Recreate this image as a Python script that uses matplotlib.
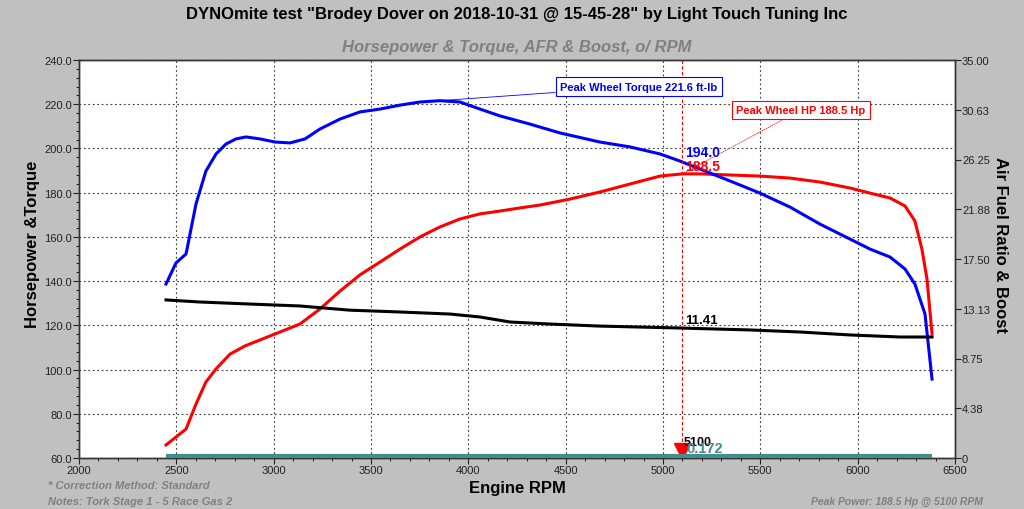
import matplotlib
matplotlib.use("Agg")
import matplotlib.pyplot as plt
from matplotlib.ticker import MultipleLocator, FixedLocator

# ---- data ----
torque_rpm = [2447, 2498, 2550, 2601, 2652, 2704, 2755, 2806, 2858, 2930, 3007, 3084, 3161, 3238,
              3341, 3443, 3546, 3649, 3752, 3854, 3957, 4060, 4163, 4317, 4471, 4676, 4830, 4985,
              5087, 5190, 5344, 5498, 5652, 5806, 5961, 6063, 6166, 6243, 6294, 6346, 6382]
torque = [138.7, 148.2, 152.3, 174.9, 189.8, 197.5, 202.0, 204.3, 205.2, 204.3, 202.9, 202.5, 204.3,
          208.8, 213.3, 216.5, 217.8, 219.6, 221.0, 221.6, 221.0, 217.8, 214.7, 211.0, 207.0, 202.9,
          200.7, 197.5, 194.3, 190.7, 185.3, 179.8, 173.5, 165.8, 159.0, 154.5, 150.9, 145.5, 138.7,
          125.1, 95.7]

hp_rpm = [2447, 2550, 2601, 2652, 2704, 2776, 2853, 2930, 3033, 3135, 3238, 3341, 3443, 3546, 3649,
          3752, 3854, 3957, 4060, 4163, 4265, 4368, 4522, 4676, 4830, 4985, 5100, 5190, 5344, 5498,
          5652, 5806, 5961, 6063, 6166, 6243, 6294, 6330, 6356, 6382]
hp = [65.9, 73.1, 84.4, 94.4, 100.3, 107.0, 110.7, 113.4, 117.0, 120.6, 127.4, 135.5, 142.8, 148.6,
      154.5, 160.0, 164.5, 168.1, 170.4, 171.7, 173.1, 174.4, 177.1, 180.3, 183.9, 187.5, 188.5, 188.5,
      188.0, 187.5, 186.6, 184.8, 182.1, 179.8, 177.6, 174.0, 167.2, 154.5, 141.0, 116.1]

afr_rpm = [2447, 2620, 2877, 3134, 3391, 3648, 3905, 4060, 4214, 4420, 4676, 5087, 5447, 5704,
           5961, 6218, 6382]
afr = [13.90, 13.72, 13.54, 13.37, 13.00, 12.84, 12.66, 12.40, 11.96, 11.78, 11.60, 11.43, 11.26,
       11.08, 10.82, 10.64, 10.64]

boost_rpm = [2447, 6382]
boost = [0.172, 0.172]

peak_rpm = 5100
peak_hp = 188.5
peak_tq = 221.6
peak_tq_rpm = 3854
tq_at_peak = 194.0
afr_at_peak = 11.41
boost_at_peak = 0.172

x_ticks = [2000, 2500, 3000, 3500, 4000, 4500, 5000, 5500, 6000, 6500]
left_ticks = [60, 80, 100, 120, 140, 160, 180, 200, 220, 240]
right_ticks = [0, 4.38, 8.75, 13.13, 17.50, 21.88, 26.25, 30.63, 35.00]
right_labels = ["0", "4.38", "8.75", "13.13", "17.50", "21.88", "26.25", "30.63", "35.00"]

# ---- figure ----
plt.rcParams['font.family'] = ['Liberation Sans', 'DejaVu Sans']
BG = "#c0c0c0"
fig = plt.figure(figsize=(10.24, 5.10), dpi=100, facecolor=BG)
ax = fig.add_axes([79/1024, 51/510, 876/1024, 398/510])
ax.set_facecolor("white")
ax.set_xlim(2000, 6500)
ax.set_ylim(60, 240)
ax2 = ax.twinx()
ax2.set_ylim(0, 35)

ax.set_xticks(x_ticks)
ax.xaxis.set_minor_locator(MultipleLocator(100))
ax.set_yticks(left_ticks)
ax.set_yticklabels([f"{v:.1f}" for v in left_ticks])
ax.yaxis.set_minor_locator(MultipleLocator(4))
ax2.yaxis.set_major_locator(FixedLocator(right_ticks))
ax2.set_yticklabels(right_labels)

for a in (ax, ax2):
    a.tick_params(which='major', length=4, width=0.8, labelsize=8, colors='#222222', pad=1)
    a.tick_params(which='minor', length=2, width=0.6)
    for s in a.spines.values():
        s.set_color('#333333')
        s.set_linewidth(1.0)

ax.grid(True, which='major', axis='both', linestyle=(0, (1.5, 2.5)), color='#333333', linewidth=0.8)

# lines
ax2.plot(boost_rpm, boost, color='#3f8f8f', lw=3, zorder=3, solid_capstyle='butt')
ax2.plot(afr_rpm, afr, color='black', lw=2.2, zorder=3)
ax.plot(hp_rpm, hp, color='#ff0000', lw=2.2, zorder=4)
ax.plot(torque_rpm, torque, color='#0000ff', lw=2.2, zorder=5)

# cursor
ax.axvline(peak_rpm, color='red', lw=0.8, linestyle=(0, (3, 2)), zorder=6)
ax.plot([peak_rpm], [63.3], marker='v', color='red', markersize=11, clip_on=False, zorder=7)
ax.text(peak_rpm + 15, tq_at_peak + 1.2, f"{tq_at_peak:.1f}", color='#0000ff', fontsize=10,
        fontweight='bold', ha='left', va='bottom', zorder=8)
ax.text(peak_rpm + 15, peak_hp + 0.2, f"{peak_hp:.1f}", color='red', fontsize=10,
        fontweight='bold', ha='left', va='bottom', zorder=8)
ax2.text(peak_rpm + 15, afr_at_peak + 0.2, f"{afr_at_peak:.2f}", color='black', fontsize=9.5,
         fontweight='bold', ha='left', va='bottom', zorder=8)
ax.text(peak_rpm + 5, 64.6, f"{peak_rpm}", color='black', fontsize=9, fontweight='bold',
        ha='left', va='bottom', zorder=8)
ax2.text(peak_rpm + 20, 0.25, f"{boost_at_peak:.3f}", color='#3f8f8f', fontsize=10.5,
         fontweight='bold', ha='left', va='bottom', zorder=8)

# annotations
ax.annotate(f"Peak Wheel Torque {peak_tq:.1f} ft-lb", xy=(peak_tq_rpm, peak_tq), xytext=(4471, 228.0),
            color='#0000ff', fontsize=8, fontweight='bold', ha='left', va='center',
            bbox=dict(boxstyle='square,pad=0.4', fc='white', ec='#0000ff', lw=0.8),
            arrowprops=dict(arrowstyle='-', color='#0000ff', lw=0.6, shrinkA=0, shrinkB=0), zorder=9)
ax.annotate(f"Peak Wheel HP {peak_hp:.1f} Hp", xy=(peak_rpm, peak_hp), xytext=(5375, 217.4),
            color='red', fontsize=8, fontweight='bold', ha='left', va='center',
            bbox=dict(boxstyle='square,pad=0.4', fc='white', ec='red', lw=0.8),
            arrowprops=dict(arrowstyle='-', color='red', lw=0.6, linestyle=':', shrinkA=0, shrinkB=0),
            zorder=9)

# texts
fig.text(0.505, 0.972, 'DYNOmite test "Brodey Dover on 2018-10-31 @ 15-45-28" by Light Touch Tuning Inc',
         ha='center', va='center', fontsize=12, fontweight='bold', color='black', stretch='condensed')
fig.text(0.505, 0.906, 'Horsepower & Torque, AFR & Boost, o/ RPM', ha='center', va='center',
         fontsize=12, fontweight='bold', style='italic', color='#808080')
fig.text(0.032, 0.52, 'Horsepower &Torque', rotation=90, ha='center', va='center', fontsize=12,
         fontweight='bold', color='black')
fig.text(0.977, 0.52, 'Air Fuel Ratio & Boost', rotation=-90, ha='center', va='center', fontsize=12,
         fontweight='bold', color='black')
fig.text(0.505, 0.043, 'Engine RPM', ha='center', va='center', fontsize=12, fontweight='bold')
fig.text(0.047, 0.047, '* Correction Method: Standard', ha='left', va='center', fontsize=8,
         fontweight='bold', style='italic', color='#808080')
fig.text(0.047, 0.016, 'Notes: Tork Stage 1 - 5 Race Gas 2', ha='left', va='center', fontsize=8,
         fontweight='bold', style='italic', color='#808080')
fig.text(0.96, 0.016, 'Peak Power: 188.5 Hp @ 5100 RPM', ha='right', va='center', fontsize=7.5,
         fontweight='bold', style='italic', color='#808080')

fig.savefig("out.png", dpi=100, facecolor=BG)
